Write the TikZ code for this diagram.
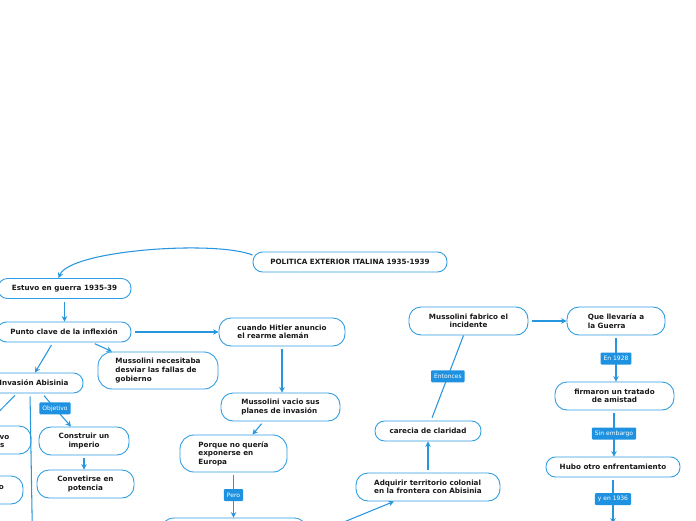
\documentclass[tikz,border=0pt]{standalone}
\usepackage{fontspec}
\newfontfamily\nodefont{DejaVu Sans}
\usetikzlibrary{arrows.meta}
\definecolor{lineblue}{RGB}{38,150,222}
\definecolor{nodeblue}{RGB}{48,158,226}
\definecolor{labelblue}{RGB}{30,146,224}
\definecolor{textdark}{RGB}{25,25,25}
\tikzset{
  box/.style={draw=nodeblue, line width=0.9pt, rounded corners=12pt, fill=white,
    font={\nodefont\bfseries\fontsize{7.2}{8.6}\selectfont}, text=textdark,
    inner sep=0pt, align=center},
  slim/.style={rounded corners=9.5pt},
  frag/.style={font={\nodefont\bfseries\fontsize{7.2}{8.6}\selectfont}, text=textdark, inner sep=0pt},
  conn/.style={draw=lineblue, line width=1.05pt, -{Stealth[length=5.5pt,width=5.5pt]}, shorten <=3pt},
  plain/.style={draw=lineblue, line width=1.05pt, shorten <=3pt},
  lab/.style={fill=labelblue, text=white, font={\nodefont\fontsize{6}{7}\selectfont},
    rounded corners=1pt, minimum height=12pt, inner xsep=3pt, inner ysep=0pt}
}
\begin{document}
\begin{tikzpicture}[x=1pt,y=-1pt]
\useasboundingbox (0,0) rectangle (696,520);
\fill[white] (0,0) rectangle (696,520);
\clip (0,0) rectangle (696,520);

% nodes
\node[box,slim,minimum width=194pt,minimum height=20pt] (root) at (350,262) {POLITICA EXTERIOR ITALINA 1935-1939};
\node[box,slim,minimum width=133pt,minimum height=20pt] (estuvo) at (64.5,288.5) {Estuvo en guerra 1935-39};
\node[box,slim,minimum width=134pt,minimum height=20pt] (punto) at (64,332) {Punto clave de la inflexión};
\node[box,align=left,minimum width=126pt,minimum height=28pt] (hitler) at (282,332) {cuando Hitler anuncio\\el rearme alemán};
\node[box,align=left,rounded corners=14pt,minimum width=120pt,minimum height=37pt] (necesita) at (158,370.5) {Mussolini necesitaba\\desviar las fallas de\\gobierno};
\node[box,slim,minimum width=98pt,minimum height=20pt] (invasion) at (34,383) {Invasión Abisinia};
\node[box,align=left,minimum width=119pt,minimum height=28pt] (vacio) at (280.5,407) {Mussolini vacio sus\\planes de invasión};
\node[box,align=left,rounded corners=14pt,minimum width=107pt,minimum height=37pt] (porque) at (233.5,453.5) {Porque no quería\\exponerse en\\Europa};
\node[box,minimum width=90pt,minimum height=28pt] (construir) at (84,441) {Construir un\\imperio};
\node[box,minimum width=97pt,minimum height=28pt] (convet) at (85.5,484) {Convetirse en\\potencia};
\node[box,minimum width=92pt,minimum height=28pt] (cutA) at (-15,440) {};
\node[frag,anchor=base east] (cutAa) at (9.5,439) {vo};
\node[frag,anchor=base east] (cutAb) at (4.5,447.5) {s};
\node[box,minimum width=96pt,minimum height=28pt] (cutB) at (-25,490) {};
\node[frag,anchor=base east] (cutBa) at (4,489) {o};
\node[box,rounded corners=14pt,minimum width=148pt,minimum height=37pt] (bottom) at (234,536.5) {};
\node[box,minimum width=119pt,minimum height=28pt] (fabrico) at (468.5,321) {Mussolini fabrico el\\incidente};
\node[box,align=left,minimum width=98pt,minimum height=28pt] (llevaria) at (616,321) {Que llevaría a\\la Guerra};
\node[box,minimum width=119pt,minimum height=28pt] (firmaron) at (614.5,396) {firmaron un tratado\\de amistad};
\node[box,slim,minimum width=106pt,minimum height=20pt] (carecia) at (428,431) {carecia de claridad};
\node[box,slim,minimum width=134pt,minimum height=20pt] (hubo) at (613,467) {Hubo otro enfrentamiento};
\node[box,align=left,minimum width=144pt,minimum height=28pt] (adquirir) at (428,487) {Adquirir territorio colonial\\en la frontera con Abisinia};
\node[box,minimum width=130pt,minimum height=32pt] (below) at (613,540) {};
\coordinate (offsouth) at (33.5,600);

% connectors
\draw[draw=lineblue, line width=1.05pt, -{Stealth[length=5.5pt,width=5.5pt]}]
  ([yshift=7pt]root.west) .. controls (215,240) and (70,250) .. ([xshift=-6pt]estuvo.north);
\draw[conn] (estuvo.south) -- (estuvo.south |- punto.north);
\draw[conn,shorten <=4pt] (punto.east) -- (hitler.west);
\draw[conn] ([xshift=28pt]punto.south) -- ([xshift=-46pt]necesita.north);
\draw[conn] ([xshift=-11pt]punto.south) -- ([xshift=1pt]invasion.north);
\draw[conn] ([xshift=8pt]invasion.south) -- node[lab,pos=0.45] (lobj) {Objetivo} ([xshift=-13pt]construir.north);
\draw[conn] ([xshift=-17pt]invasion.south) -- (cutA.north);
\draw[conn] ([xshift=-4pt]invasion.south) -- (offsouth);
\draw[conn] (construir.south) -- (construir.south |- convet.north);
\draw[conn] (hitler.south) -- (hitler.south |- vacio.north);
\draw[conn] ([xshift=-17pt]vacio.south) -- ([xshift=19pt]porque.north);
\draw[conn] (porque.south) -- node[lab,pos=0.5] (lpero) {Pero} (porque.south |- bottom.north);
\draw[conn,shorten <=0pt] (bottom.east) -- ([xshift=-34pt]adquirir.south);
\draw[conn] (adquirir.north) -- (carecia.south);
\draw[plain] ([xshift=3pt]carecia.north) -- node[lab,pos=0.52] (lent) {Entonces} ([xshift=-5pt]fabrico.south);
\draw[conn,shorten <=4pt] (fabrico.east) -- (llevaria.west);
\draw[conn] (llevaria.south) -- node[lab,pos=0.5] (l1928) {En 1928} (llevaria.south |- firmaron.north);
\draw[conn] ([xshift=-0.5pt]firmaron.south) -- node[lab,pos=0.5] (lsin) {Sin embargo} ([xshift=-0.5pt]firmaron.south |- hubo.north);
\draw[conn] (hubo.south) -- node[lab,pos=0.47] (l1936) {y en 1936} (below.north);
\end{tikzpicture}
\end{document}
